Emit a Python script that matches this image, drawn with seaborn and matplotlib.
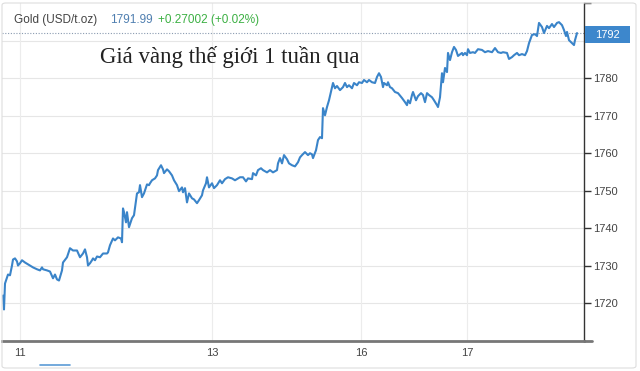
import pandas as pd
import seaborn as sns
import matplotlib.pyplot as plt
from matplotlib.patches import Rectangle, FancyBboxPatch
from matplotlib.lines import Line2D

# trading-time index (position along the week) and gold price, USD/t.oz
t = [3, 4, 5, 7, 8, 10, 12, 13, 15, 17, 18, 20, 22, 25, 30, 33, 37, 40, 42, 43,
     47, 50, 53, 55, 57, 59, 62, 63, 67, 70, 73, 77, 80, 83, 85, 87, 88, 90, 92, 93,
     95, 97, 100, 103, 107, 108, 110, 113, 115, 118, 121, 122, 123, 124, 126, 127, 129, 132, 134, 137,
     139, 140, 142, 144, 147, 149,
     150, 152, 155, 157, 158, 161, 163, 164, 167, 169, 172, 174, 177, 179, 182, 183, 185, 187, 189, 192,
     194, 197, 199, 202, 203, 206, 207, 209, 212, 214, 217, 220, 222, 225, 228, 232, 235, 240, 243, 246,
     248, 252, 253, 256, 258, 261, 263, 267, 270, 273, 277, 278, 280, 282, 284, 287, 289,
     292, 295, 298, 300, 302, 305, 308, 310, 312, 313, 316, 318, 320, 322, 323, 325, 327, 329, 332, 333,
     335, 337, 340, 343, 345, 347, 349, 352, 354, 357, 359, 362, 364, 367, 369, 372, 375, 377, 379, 381,
     383, 384, 387, 388, 390, 392, 395, 398, 402, 405, 407, 408, 410, 412, 413, 416, 418, 421, 423, 425,
     427, 429, 432, 434, 437, 438,
     440, 442, 443, 445, 447, 448, 450, 452, 454, 456, 458, 462, 463, 465, 467, 468, 470, 473, 475, 478,
     482, 485, 488, 492, 495, 498, 501, 503, 507, 509, 512, 514, 517, 519, 522, 525, 527, 529, 532, 535,
     537, 539, 542, 544, 547, 549, 552, 554, 557, 559, 562, 564, 566, 567, 569, 572, 574, 575, 577]

price = [1722.1, 1718.4, 1725.3, 1726.9, 1727.7, 1727.5, 1730.1, 1731.7, 1732.0, 1731.2,
         1730.1, 1730.7, 1731.5, 1730.9, 1730.1, 1729.6, 1729.1, 1728.8, 1729.6, 1729.1,
         1728.8, 1728.5, 1726.7, 1727.7, 1726.4, 1726.1, 1728.8, 1730.9, 1732.3, 1734.7,
         1734.1, 1734.1, 1732.3, 1733.3, 1734.4, 1732.3, 1730.1, 1730.7, 1731.5, 1732.0,
         1731.5, 1732.5, 1732.3, 1733.3, 1733.3, 1733.6, 1735.5, 1737.3, 1736.8, 1737.6,
         1737.3, 1736.3, 1745.3, 1744.3, 1741.6, 1744.3, 1740.3, 1742.7, 1743.5, 1749.3,
         1749.6, 1751.5, 1748.3, 1749.3, 1751.7, 1751.5,
         1752.0, 1752.8, 1753.3, 1754.1, 1755.5, 1756.8, 1755.7, 1754.7, 1755.7, 1755.2,
         1754.1, 1752.8, 1751.5, 1749.9, 1750.9, 1749.6, 1750.7, 1746.9, 1749.3, 1748.0,
         1747.7, 1746.7, 1747.5, 1748.8, 1750.1, 1752.0, 1753.6, 1750.9, 1752.0, 1750.7,
         1751.5, 1752.8, 1752.0, 1753.1, 1753.6, 1753.3, 1752.8, 1753.6, 1753.6, 1752.5,
         1753.3, 1753.1, 1754.7, 1754.1, 1755.5, 1756.0, 1755.5, 1754.9, 1755.5, 1754.9,
         1755.5, 1757.3, 1758.7, 1757.3, 1759.5, 1758.4, 1757.3,
         1756.8, 1756.5, 1757.6, 1758.9, 1759.5, 1760.3, 1759.5, 1760.0, 1759.7, 1758.7,
         1760.8, 1763.5, 1764.3, 1764.0, 1772.0, 1770.1, 1772.3, 1774.1, 1777.6, 1778.7,
         1777.3, 1777.9, 1776.8, 1777.6, 1778.7, 1777.6, 1778.1, 1777.3, 1778.7, 1778.1,
         1778.9, 1778.7, 1779.5, 1778.9, 1779.5, 1778.9, 1778.7, 1780.3, 1781.3, 1780.3,
         1777.6, 1778.7, 1778.1, 1778.9, 1777.6, 1777.3, 1776.3, 1776.0, 1774.7, 1773.6,
         1772.8, 1774.1, 1773.3, 1775.5, 1776.3, 1774.1, 1775.2, 1776.0, 1775.5, 1773.6,
         1776.0, 1775.5, 1774.9, 1774.1, 1772.8, 1772.3,
         1774.9, 1781.3, 1778.9, 1782.7, 1781.6, 1786.7, 1784.8, 1786.9, 1788.3, 1787.5,
         1785.9, 1786.7, 1786.1, 1786.7, 1786.1, 1787.7, 1786.7, 1786.9, 1786.7, 1787.7,
         1787.5, 1786.9, 1787.2, 1786.9, 1788.0, 1786.9, 1786.7, 1786.9, 1786.7, 1785.1,
         1785.6, 1786.1, 1786.7, 1786.1, 1786.4, 1786.1, 1787.2, 1789.3, 1791.5, 1791.7,
         1791.2, 1794.7, 1793.6, 1792.0, 1793.9, 1793.3, 1794.4, 1793.6, 1794.7, 1794.9,
         1794.1, 1792.8, 1791.2, 1792.3, 1790.1, 1789.3, 1788.8, 1790.1, 1791.99]

day_pos = [20, 212, 361, 467]
day_labels = ["11", "13", "16", "17"]
y_ticks = [1720, 1730, 1740, 1750, 1760, 1770, 1780, 1790, 1800]

df = pd.DataFrame({"t": t, "price": price})

sns.set_style("white")
plt.rcParams["font.family"] = ["Liberation Sans", "DejaVu Sans"]

fig = plt.figure(figsize=(6.4, 3.71), dpi=100)
ax = fig.add_axes([2 / 640, 30 / 371, 582 / 640, 338 / 371])

# grid first so the line sits on top
for y in y_ticks[:-1]:
    ax.axhline(y, color="#e6e6e6", lw=0.8, zorder=0)
for x in day_pos:
    ax.axvline(x, color="#ececec", lw=0.8, zorder=0)

last = price[-1]
ax.axhline(last, color="#8a9bb0", lw=0.8, ls=(0, (1, 1.5)), zorder=1)

sns.lineplot(data=df, x="t", y="price", ax=ax, color="#3a84c9", lw=1.5, zorder=3)

ax.set_xlim(2, 584)
ax.set_ylim(1710, 1800)
ax.set_xlabel("")
ax.set_ylabel("")

ax.set_xticks(day_pos)
ax.set_xticklabels(day_labels)
ax.yaxis.tick_right()
ax.set_yticks(y_ticks)
# 1790 label sits under the price badge, so leave it blank
ax.set_yticklabels([str(v) for v in y_ticks[:-2]] + ["", ""])
ax.tick_params(axis="x", length=0, pad=5, labelsize=8, labelcolor="#444444")
ax.tick_params(axis="y", right=True, length=5, width=1, color="#333333",
               pad=1.5, labelsize=8, labelcolor="#444444")

for side in ["top", "left"]:
    ax.spines[side].set_visible(False)
ax.spines["right"].set_color("#333333")
ax.spines["right"].set_linewidth(1)
ax.spines["bottom"].set_color("#777777")
ax.spines["bottom"].set_linewidth(2)
ax.plot([1, 1.014], [0, 0], transform=ax.transAxes, color="#777777", lw=2, clip_on=False)

# header
fig.text(14 / 640, 1 - 20 / 371, "Gold (USD/t.oz)", fontsize=8.5, color="#444444", va="center")
fig.text(110 / 640, 1 - 20 / 371, f"{last:.2f}", fontsize=8.5, color="#4f7fb0", va="center")
fig.text(158 / 640, 1 - 20 / 371, "+0.27002 (+0.02%)", fontsize=8.5, color="#3cb043", va="center")

fig.text(100 / 640, 1 - 57 / 371, "Giá vàng thế giới 1 tuần qua", fontsize=16.5,
         family=["Liberation Serif", "DejaVu Serif"], color="#222222", va="center")

# current price badge
fig.add_artist(Rectangle((585 / 640, 1 - 43 / 371), 45 / 640, 17 / 371,
                         transform=fig.transFigure, facecolor="#3d87cc", edgecolor="none", zorder=5))
fig.text(607.5 / 640, 1 - 34.5 / 371, f"{round(last)}", fontsize=8, color="white",
         ha="center", va="center", zorder=6)

# container border and scroll marker
fig.add_artist(FancyBboxPatch((2 / 640, 3 / 371), 634 / 640, 365 / 371,
                              boxstyle="round,pad=0,rounding_size=0.006",
                              transform=fig.transFigure, facecolor="none",
                              edgecolor="#dddddd", lw=0.8))
fig.add_artist(Line2D([40 / 640, 70 / 640], [1 - 365 / 371, 1 - 365 / 371],
                      transform=fig.transFigure, color="#5b9bd5", lw=1.2))

fig.savefig("out.png", dpi=100)
